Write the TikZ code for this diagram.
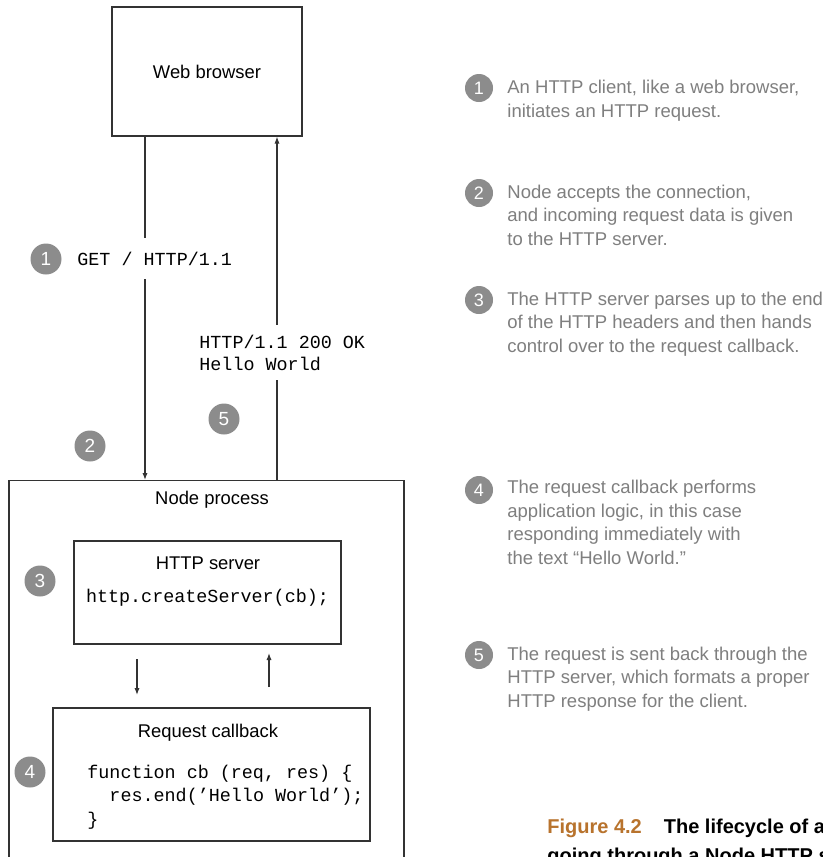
\documentclass[tikz,border=0pt]{standalone}
\usepackage{fontspec}
\setmainfont{Liberation Sans}
\setmonofont{Liberation Mono}
\usetikzlibrary{arrows.meta,calc}
\definecolor{boxline}{HTML}{333333}
\definecolor{badge}{HTML}{8C8C8C}
\definecolor{notec}{HTML}{7F7F7F}
\definecolor{capc}{HTML}{B8732D}
\begin{document}
\begin{tikzpicture}[x=0.5pt,y=-0.5pt,
  box/.style={draw=boxline,line width=0.6pt,inner sep=0pt},
  arr/.style={draw=boxline,line width=0.6pt,-{Latex[length=3.5pt,width=2.6pt]}},
  badgeL/.style={circle,fill=badge,text=white,minimum size=15.5pt,inner sep=0pt,font=\fontsize{9.5}{10}\selectfont},
  badgeR/.style={circle,fill=badge,text=white,minimum size=14pt,inner sep=0pt,font=\fontsize{9}{10}\selectfont},
  lbl/.style={font=\fontsize{9.2}{11}\selectfont},
  code/.style={font=\fontsize{9.2}{11.75}\selectfont\ttfamily},
  notetxt/.style={text=notec,align=left,anchor=base west,inner sep=0pt,font=\fontsize{9.25}{11.75}\selectfont},
]
\useasboundingbox (0,0) rectangle (823,857);
\clip (0,0) rectangle (823,857);
\fill[white] (0,0) rectangle (823,857);

% boxes
\node[box,minimum width=95pt,minimum height=64.5pt,lbl] (wb) at (207,71.5) {Web browser};
\node[box,anchor=north,minimum width=197.5pt,minimum height=220pt] (np) at (206.5,480) {};
\node[lbl] (npt) at (212,500) {Node process};
\node[box,minimum width=133.5pt,minimum height=51.5pt] (hs) at (207.5,592.5) {};
\node[lbl] (hst) at (208,563) {HTTP server};
\node[code] (hsc) at (207.5,598) {http.createServer(cb);};
\node[box,minimum width=158.5pt,minimum height=66.5pt] (rc) at (211.5,774.5) {};
\node[lbl] (rct) at (208,733) {Request callback};
\node[code,align=left,anchor=base west,inner sep=0pt] (rcc) at (87,825)
  {function cb (req, res) \{\\\phantom{xx}res.end(’Hello World’);\\\}};

% main connectors
\coordinate (la) at (145,0);
\coordinate (ra) at (277,0);
\draw[arr] (wb.south -| la) -- (np.north -| la);
\draw[arr] (np.north -| ra) -- (wb.south -| ra);
\node[code,fill=white,anchor=west,inner xsep=2pt,inner ysep=1pt,minimum height=20.5pt] (getl) at (73,258.5) {GET / HTTP/1.1};
\node[code,fill=white,anchor=west,align=left,inner xsep=2pt,inner ysep=1pt,minimum height=27.5pt,font=\fontsize{9.2}{11}\selectfont\ttfamily] (resl) at (195,352.5) {HTTP/1.1 200 OK\\Hello World};

% inner connectors
\coordinate (d1) at (137,659);
\coordinate (d2) at (137,695);
\coordinate (u1) at (269,687);
\coordinate (u2) at (269,653);
\draw[arr] (d1) -- (d2);
\draw[arr] (u1) -- (u2);

% left badges
\node[badgeL] (b1) at (46,259) {1};
\node[badgeL] (b2) at (90,446) {2};
\node[badgeL] (b5) at (224,419) {5};
\node[badgeL] (b3) at (40,581) {3};
\node[badgeL] (b4) at (30,772) {4};

% right notes (anchored at the baseline of the last line)
\node[badgeR] (n1) at (479,88) {1};
\node[notetxt] (t1) at (507,117) {An HTTP client, like a web browser,\\initiates an HTTP request.};
\node[badgeR] (n2) at (479,193) {2};
\node[notetxt] (t2) at (507,245) {Node accepts the connection,\\and incoming request data is given\\to the HTTP server.};
\node[badgeR] (n3) at (479,300) {3};
\node[notetxt] (t3) at (507,352) {The HTTP server parses up to the end\\of the HTTP headers and then hands\\control over to the request callback.};
\node[badgeR] (n4) at (479,490) {4};
\node[notetxt] (t4) at (507,564) {The request callback performs\\application logic, in this case\\responding immediately with\\the text “Hello World.”};
\node[badgeR] (n5) at (479,655) {5};
\node[notetxt] (t5) at (507,707) {The request is sent back through the\\HTTP server, which formats a proper\\HTTP response for the client.};

% caption
\node[anchor=base west,inner sep=0pt,align=left,font=\fontsize{10}{14.5}\selectfont\bfseries] (cap) at (547,862)
  {\textcolor{capc}{Figure 4.2}\hspace{11pt}The lifecycle of a\\going through a Node HTTP s};
\end{tikzpicture}
\end{document}
